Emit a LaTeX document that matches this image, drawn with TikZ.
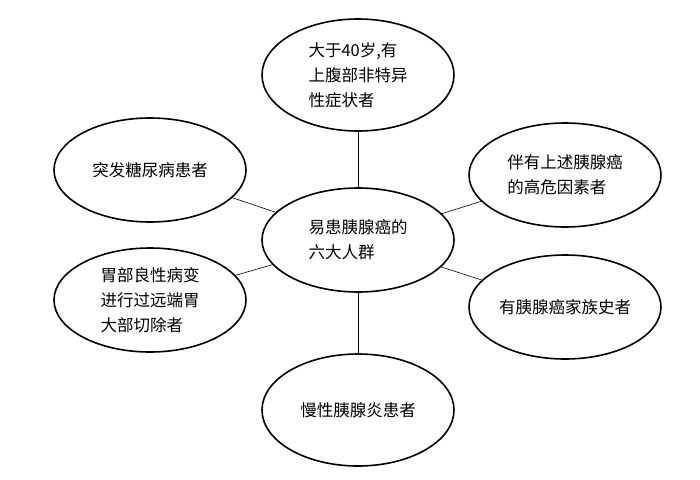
\documentclass[tikz,border=0pt]{standalone}
\usepackage{fontspec}
\newfontfamily\cjk{Noto Sans CJK SC}
\usetikzlibrary{shapes.geometric}
\begin{document}
\begin{tikzpicture}[x=1pt,y=-1pt,
  ell/.style={ellipse,draw,line width=1.6pt,minimum width=192pt,minimum height=104pt,inner sep=0pt,align=left,font=\cjk\fontsize{16.5}{25}\selectfont},
  con/.style={draw,line width=0.6pt}]
\useasboundingbox (0,0) rectangle (700,479);
\node[ell] (c) at (358,240) {易患胰腺癌的\\六大人群};
\node[ell,minimum height=112pt] (t) at (358,75) {大于40岁,有\\上腹部非特异\\性症状者};
\node[ell] (lt) at (150,170) {突发糖尿病患者};
\node[ell] (rt) at (565,175) {伴有上述胰腺癌\\的高危因素者};
\node[ell] (lb) at (150,300) {胃部良性病变\\进行过远端胃\\大部切除者};
\node[ell] (rb) at (565,307) {有胰腺癌家族史者};
\node[ell,minimum height=112pt] (b) at (358,410) {慢性胰腺炎患者};
\foreach \n in {t,lt,rt,lb,rb,b} \draw[con] (c) -- (\n);
\end{tikzpicture}
\end{document}
